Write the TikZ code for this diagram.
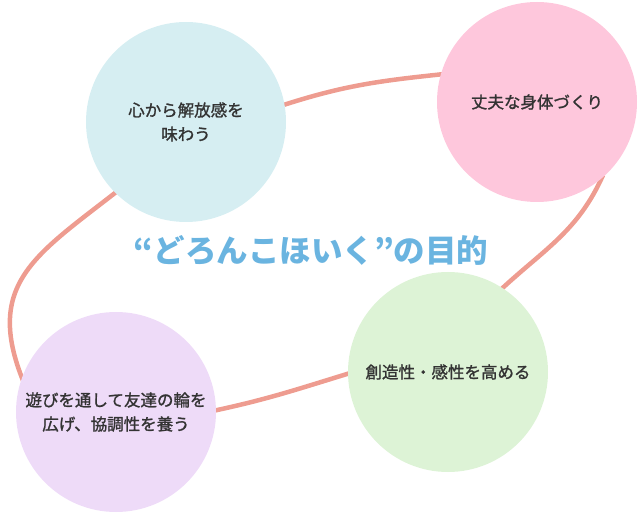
\documentclass[tikz,border=0pt]{standalone}
\usepackage{fontspec}
\setmainfont{Noto Sans CJK JP}
\newfontfamily\goalfont[FakeBold=1.3]{Noto Sans CJK JP}
\usetikzlibrary{backgrounds}

\definecolor{loopline}{HTML}{EE9C90}
\definecolor{textgray}{HTML}{333333}
\definecolor{titleblue}{HTML}{6AB4E0}
\definecolor{goalblue}{HTML}{D6EEF2}
\definecolor{goalpink}{HTML}{FEC7DC}
\definecolor{goalgreen}{HTML}{DDF3D6}
\definecolor{goalpurple}{HTML}{EEDBF8}

\tikzset{
  goal/.style={circle, minimum size=200pt, inner sep=0pt, align=center,
    text=textgray, font=\goalfont\fontsize{16.5}{24}\selectfont},
  loopline/.style={draw=loopline, line width=4.5pt,
    shorten <=-4pt, shorten >=-4pt}
}

\begin{document}
\begin{tikzpicture}[x=1pt, y=-1pt]
    \useasboundingbox (0,0) rectangle (643,513);

    % Circles
    \node[goal, fill=goalblue] (kaiho) at (186,122) {心から解放感を\\味わう};
    \node[goal, fill=goalpink] (karada) at (537,102) {丈夫な身体づくり};
    \node[goal, fill=goalgreen] (sozo) at (448,372) {創造性・感性を高める};
    \node[goal, fill=goalpurple] (kyocho) at (116,412) {遊びを通して友達の輪を\\広げ、協調性を養う};

    % Title
    \node[text=titleblue, font=\fontsize{31.5}{31.5}\bfseries] (title) at (311,250) {“どろんこほいく”の目的};

    % Loop
    \begin{scope}[on background layer]
    \draw[loopline] (kaiho.10) to[out=18, in=186] (karada.164);
    \draw[loopline] (karada.-50) to[out=-114, in=43] (sozo.57);
    \draw[loopline] (sozo.181) to[out=197, in=12] (kyocho.1);
    \draw[loopline] (kyocho.160) to[out=112, in=218, looseness=1.25] (kaiho.225);
    \end{scope}
\end{tikzpicture}
\end{document}
